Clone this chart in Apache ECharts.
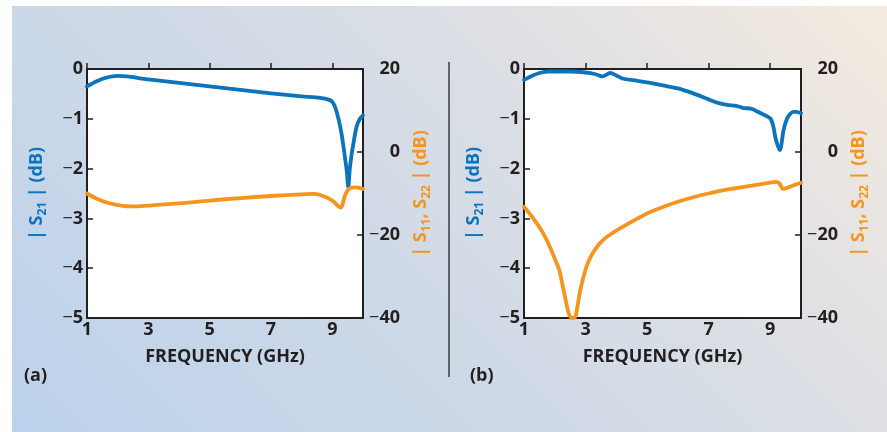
<!DOCTYPE html>
<html>
<head>
<meta charset="utf-8">
<script src="https://cdn.jsdelivr.net/npm/echarts@6/dist/echarts.min.js"></script>
<style>
  html, body { margin: 0; padding: 0; background: #fff; }
  #chart { width: 887px; height: 432px; }
</style>
</head>
<body>
<div id="chart"></div>
<script>
// Frequency axis ticks (GHz) and S-parameter axis ranges
const freqTicks = [1, 3, 5, 7, 9];
const s21Range = [-5, 0];
const reflRange = [-40, 20];

// (a) |S21| in dB, pairs of [GHz, dB]
const s21A = [
  [1, -0.35], [1.3, -0.25], [1.6, -0.18], [2, -0.14], [2.3, -0.15], [3, -0.21],
  [4, -0.28], [5, -0.35], [6, -0.42], [7, -0.49], [8, -0.55], [8.6, -0.58],
  [8.9, -0.62], [9.0, -0.66], [9.1, -0.78], [9.2, -1.0], [9.3, -1.3],
  [9.4, -1.72], [9.47, -2.05], [9.52, -2.37], [9.57, -2.0], [9.62, -1.75],
  [9.67, -1.56], [9.79, -1.16], [9.9, -1.0], [10, -0.93]
];
// (a) |S11|, |S22| in dB
const reflA = [
  [1, -10], [1.3, -11.2], [1.7, -12.3], [2.1, -12.9], [2.5, -13.1], [3, -12.9],
  [4, -12.4], [5, -11.7], [6, -11.1], [7, -10.6], [8, -10.2], [8.4, -10.1],
  [8.7, -10.6], [9.0, -11.7], [9.28, -13.4], [9.35, -12.2], [9.42, -10.3],
  [9.55, -8.8], [9.7, -8.5], [9.85, -8.6], [10, -8.9]
];
// (b) |S21| in dB
const s21B = [
  [1, -0.22], [1.25, -0.14], [1.5, -0.08], [1.8, -0.05], [2.5, -0.05], [3, -0.07],
  [3.3, -0.1], [3.55, -0.15], [3.8, -0.08], [4, -0.13], [4.2, -0.19], [4.6, -0.23],
  [5, -0.27], [5.5, -0.33], [6, -0.39], [6.5, -0.49], [7, -0.61], [7.3, -0.68],
  [7.6, -0.72], [7.9, -0.74], [8.1, -0.78], [8.4, -0.8], [8.6, -0.86], [8.8, -0.92],
  [9, -0.99], [9.1, -1.15], [9.17, -1.38], [9.25, -1.55], [9.32, -1.63],
  [9.38, -1.45], [9.43, -1.23], [9.55, -0.99], [9.65, -0.9], [9.75, -0.86],
  [9.85, -0.86], [10, -0.89]
];
// (b) |S11|, |S22| in dB
const reflB = [
  [1, -13.2], [1.3, -16], [1.6, -19.3], [1.85, -23], [2.05, -26.6], [2.15, -28.5],
  [2.25, -32], [2.35, -35.5], [2.45, -38.8], [2.55, -40], [2.66, -39.8],
  [2.72, -38], [2.81, -34], [2.92, -30.5], [3.03, -27.6], [3.2, -24.8],
  [3.4, -22.6], [3.6, -21.0], [3.9, -19.4], [4.33, -17.5], [5, -14.8], [5.5, -13.3],
  [6, -12.0], [6.5, -10.9], [7, -10.0], [7.5, -9.2], [8, -8.6], [8.5, -8.0],
  [9, -7.4], [9.2, -7.2], [9.3, -7.6], [9.43, -8.9], [9.6, -8.5], [9.8, -7.9],
  [10, -7.4]
];

const INK = '#231f20';
const BLUE = '#0b74bc';
const ORANGE = '#f7941d';
const FONT = '"Open Sans", "Noto Sans", sans-serif';
const FS = 18;

const chart = echarts.init(document.getElementById('chart'), null, { renderer: 'canvas' });

const minusFmt = v => v < 0 ? '{m|\u2212}{n|' + Math.abs(v) + '}' : '{n|' + v + '}';
const labelRich = {
  m: { fontFamily: FONT, fontSize: FS, fontWeight: 'normal', color: INK },
  n: { fontFamily: FONT, fontSize: FS, fontWeight: 'bold', color: INK }
};
const tickStyle = { show: true, inside: true, length: 6, lineStyle: { color: INK, width: 1.5 } };

const nameRich = (color) => ({
  b: { fontFamily: FONT, fontSize: FS, fontWeight: 'bold', color: color, lineHeight: 24, verticalAlign: 'middle' },
  s: { fontFamily: FONT, fontSize: 12, fontWeight: 'bold', color: color, lineHeight: 13, verticalAlign: 'bottom' }
});

const grids = [
  { left: 87, top: 69, width: 276, height: 249 },
  { left: 524, top: 69, width: 277, height: 249 }
];

const xAxes = [], yAxes = [], series = [];
grids.forEach((g, i) => {
  xAxes.push({
    type: 'value', gridIndex: i, min: 1, max: 10, interval: freqTicks[1] - freqTicks[0],
    axisLine: { show: false }, axisTick: tickStyle, splitLine: { show: false },
    axisLabel: { margin: 3, showMaxLabel: false, formatter: minusFmt, rich: labelRich },
    name: 'FREQUENCY (GHz)', nameLocation: 'middle', nameGap: 30,
    nameTextStyle: { fontFamily: FONT, fontSize: FS, fontWeight: 'bold', color: INK }
  });
  yAxes.push({
    type: 'value', gridIndex: i, position: 'left', min: s21Range[0], max: s21Range[1], interval: 1,
    axisLine: { show: false }, axisTick: tickStyle, splitLine: { show: false },
    axisLabel: { margin: 4, formatter: minusFmt, rich: labelRich },
    name: '{b|| S}{s|21}{b| | (dB)}', nameLocation: 'middle', nameGap: 38, nameRotate: 90,
    nameTextStyle: { rich: nameRich(BLUE) }
  });
  yAxes.push({
    type: 'value', gridIndex: i, position: 'right', min: reflRange[0], max: reflRange[1], interval: 20,
    axisLine: { show: false }, axisTick: tickStyle, splitLine: { show: false },
    axisLabel: { margin: 37, align: 'right', formatter: minusFmt, rich: labelRich },
    name: '{b|| S}{s|11}{b|, S}{s|22}{b| | (dB)}', nameLocation: 'middle', nameGap: 46, nameRotate: 90,
    nameTextStyle: { rich: nameRich(ORANGE) }
  });
});

const lineSeries = (data, xi, yi, color) => ({
  type: 'line', data: data, xAxisIndex: xi, yAxisIndex: yi,
  showSymbol: false, smooth: 0.3, clip: true,
  lineStyle: { color: color, width: 3.8, cap: 'round', join: 'round' }, itemStyle: { color: color }
});
series.push(lineSeries(s21A, 0, 0, BLUE));
series.push(lineSeries(reflA, 0, 1, ORANGE));
series.push(lineSeries(s21B, 1, 2, BLUE));
series.push(lineSeries(reflB, 1, 3, ORANGE));

chart.setOption({
  backgroundColor: '#ffffff',
  animation: false,
  grid: grids.map(g => Object.assign({
    show: true, backgroundColor: '#ffffff', borderColor: INK, borderWidth: 2, containLabel: false
  }, g)),
  xAxis: xAxes,
  yAxis: yAxes,
  series: series,
  graphic: [
    {
      type: 'rect', z: -100, silent: true,
      shape: { x: 12, y: 6, width: 875, height: 426 },
      style: {
        fill: new echarts.graphic.LinearGradient(12, 432, 662, -218, [
          { offset: 0, color: '#bcd2ec' },
          { offset: 0.33, color: '#cbd8e8' },
          { offset: 0.66, color: '#dcdfe4' },
          { offset: 1, color: '#f5ebdf' }
        ], true)
      }
    },
    {
      type: 'line', z: -50, silent: true,
      shape: { x1: 449, y1: 62, x2: 449, y2: 377 },
      style: { stroke: '#3a3a3a', lineWidth: 1.5 }
    },
    {
      type: 'text', left: 24, top: 367,
      style: { text: '(a)', font: 'bold 18px ' + FONT, fill: INK }
    },
    {
      type: 'text', left: 470, top: 367,
      style: { text: '(b)', font: 'bold 18px ' + FONT, fill: INK }
    }
  ]
});
</script>
</body>
</html>
